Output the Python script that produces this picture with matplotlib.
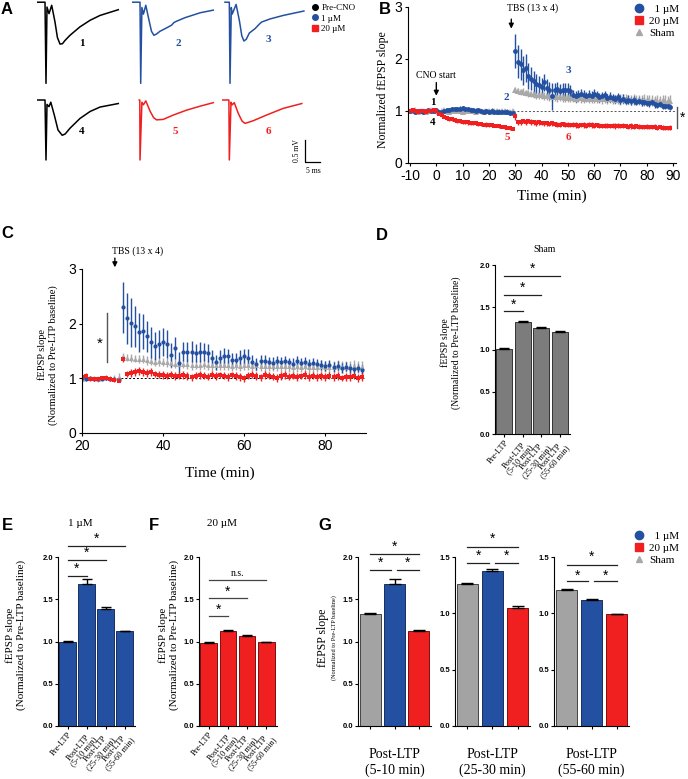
import numpy as np
import matplotlib
matplotlib.use("Agg")
import matplotlib.pyplot as plt
from matplotlib.lines import Line2D

plt.rcParams['font.family'] = 'Liberation Sans'
plt.rcParams['axes.linewidth'] = 0.8
plt.rcParams['axes.unicode_minus'] = False

SERIF = 'Liberation Serif'
BLUE = '#2450a2'
RED = '#f02020'
GRAY = '#a8a8a8'

# ---- panel A: example traces (ms, mV) ----
tr1_t = [0, 2.67, 3.0, 3.33, 4.0, 4.9, 6.0, 6.8, 7.67, 8.5, 9.3, 11.0, 14.3, 17.7, 21.0, 27.1]
tr1_v = [0, 0, -1.84, -0.11, -0.26, -0.07, -0.45, -0.80, -0.95, -0.94, -0.87, -0.75, -0.56, -0.41, -0.30, -0.17]
tr2_t = [0, 2.67, 2.9, 3.3, 3.8, 4.6, 5.7, 6.5, 7.3, 8.2, 9.3, 11.6, 13.2, 14.0, 14.9, 17.7, 22.7, 27.1]
tr2_v = [0, 0, -1.84, -0.12, -0.27, -0.07, -0.42, -0.66, -0.75, -0.72, -0.66, -0.58, -0.52, -0.46, -0.43, -0.35, -0.24, -0.18]
tr3_t = [1.0, 2.44, 2.67, 3.1, 3.4, 4.7, 5.8, 6.6, 7.3, 8.1, 9.1, 11.0, 12.4, 13.2, 16.0, 20.4, 27.3]
tr3_v = [0, 0, -1.84, -0.12, -0.27, -0.05, -0.42, -0.76, -0.88, -0.84, -0.70, -0.60, -0.50, -0.45, -0.38, -0.30, -0.20]
tr4_t = [0, 2.67, 3.0, 3.33, 4.0, 4.6, 5.8, 7.0, 8.4, 9.4, 11.0, 14.3, 17.7, 21.0, 27.1]
tr4_v = [0, 0, -1.36, -0.10, -0.15, -0.05, -0.35, -0.68, -0.80, -0.77, -0.64, -0.42, -0.26, -0.16, -0.08]
tr5_t = [2.4, 2.6, 2.67, 3.3, 3.8, 4.6, 6.0, 7.2, 8.2, 10.4, 13.8, 18.2, 22.7, 27.1]
tr5_v = [0, 0, -1.36, -0.05, -0.11, -0.02, -0.25, -0.40, -0.45, -0.44, -0.34, -0.23, -0.14, -0.06]
tr6_t = [0, 2.3, 2.44, 3.0, 3.4, 4.1, 5.4, 6.7, 7.7, 10.4, 14.9, 20.4, 26.6]
tr6_v = [0, 0, -1.36, -0.05, -0.11, -0.06, -0.30, -0.48, -0.53, -0.47, -0.34, -0.19, -0.08]

# ---- panel B: normalized fEPSP slope, -10..89 min ----
b_time = np.arange(-10, 90)
b_blue_m = [1.00, 1.01, 0.99, 1.00, 1.00, 0.99, 1.00, 1.01, 1.00, 1.00,
            1.01, 0.98, 0.99, 1.00, 1.01, 1.02, 1.03, 1.03, 1.04, 1.04,
            1.05, 1.04, 1.03, 1.02, 1.01, 1.00, 1.01, 1.00, 0.99, 1.00,
            0.99, 1.00, 0.98, 0.99, 0.99, 0.98, 0.98, 0.99, 0.97, 0.97,
            2.15, 1.95, 1.90, 1.78, 1.82, 1.68, 1.62, 1.57, 1.52, 1.50,
            1.46, 1.55, 1.45, 1.40, 1.28, 1.40, 1.42, 1.38, 1.40, 1.40,
            1.40, 1.38, 1.30, 1.28, 1.30, 1.32, 1.30, 1.28, 1.30, 1.29,
            1.32, 1.30, 1.26, 1.28, 1.30, 1.25, 1.27, 1.25, 1.23, 1.26,
            1.22, 1.24, 1.20, 1.22, 1.19, 1.21, 1.18, 1.20, 1.17, 1.18,
            1.16, 1.15, 1.17, 1.13, 1.12, 1.14, 1.10, 1.09, 1.10, 1.08]
b_blue_e = [0.03, 0.03, 0.02, 0.03, 0.03, 0.02, 0.03, 0.03, 0.02, 0.03,
            0.03, 0.04, 0.03, 0.03, 0.04, 0.04, 0.04, 0.05, 0.04, 0.05,
            0.05, 0.04, 0.05, 0.04, 0.04, 0.05, 0.04, 0.04, 0.05, 0.04,
            0.04, 0.05, 0.04, 0.04, 0.05, 0.04, 0.04, 0.05, 0.04, 0.05,
            0.33, 0.32, 0.30, 0.28, 0.27, 0.25, 0.22, 0.20, 0.20, 0.18,
            0.18, 0.17, 0.16, 0.16, 0.26, 0.14, 0.13, 0.14, 0.13, 0.13,
            0.13, 0.12, 0.10, 0.11, 0.10, 0.10, 0.10, 0.09, 0.10, 0.09,
            0.10, 0.09, 0.08, 0.09, 0.09, 0.08, 0.09, 0.08, 0.08, 0.09,
            0.08, 0.08, 0.07, 0.08, 0.07, 0.08, 0.07, 0.07, 0.08, 0.07,
            0.07, 0.07, 0.06, 0.07, 0.06, 0.07, 0.06, 0.06, 0.07, 0.06]
b_red_m = [1.00, 1.01, 1.00, 0.99, 1.00, 1.00, 0.99, 1.00, 1.00, 1.01,
           1.00, 0.95, 0.92, 0.89, 0.87, 0.85, 0.84, 0.82, 0.81, 0.80,
           0.79, 0.78, 0.78, 0.77, 0.76, 0.77, 0.75, 0.75, 0.74, 0.74,
           0.73, 0.73, 0.72, 0.72, 0.71, 0.70, 0.69, 0.68, 0.67, 0.66,
           0.90, 0.78, 0.79, 0.80, 0.79, 0.80, 0.79, 0.78, 0.77, 0.78,
           0.77, 0.76, 0.76, 0.75, 0.76, 0.75, 0.74, 0.74, 0.75, 0.74,
           0.74, 0.73, 0.74, 0.73, 0.72, 0.73, 0.73, 0.72, 0.74, 0.73,
           0.72, 0.73, 0.72, 0.71, 0.72, 0.72, 0.71, 0.72, 0.71, 0.72,
           0.71, 0.72, 0.71, 0.70, 0.71, 0.70, 0.71, 0.70, 0.69, 0.70,
           0.70, 0.69, 0.69, 0.70, 0.68, 0.69, 0.68, 0.68, 0.67, 0.68]
b_red_e = [0.02, 0.03, 0.02, 0.02, 0.03, 0.02, 0.02, 0.03, 0.02, 0.03,
           0.03, 0.03, 0.04, 0.03, 0.04, 0.04, 0.03, 0.04, 0.04, 0.03,
           0.04, 0.03, 0.04, 0.04, 0.03, 0.04, 0.03, 0.04, 0.03, 0.04,
           0.03, 0.04, 0.03, 0.03, 0.04, 0.03, 0.03, 0.03, 0.03, 0.03,
           0.07, 0.05, 0.05, 0.04, 0.05, 0.04, 0.05, 0.04, 0.05, 0.04,
           0.04, 0.05, 0.04, 0.04, 0.05, 0.04, 0.04, 0.05, 0.04, 0.04,
           0.05, 0.04, 0.04, 0.05, 0.04, 0.04, 0.05, 0.04, 0.04, 0.05,
           0.04, 0.04, 0.05, 0.04, 0.04, 0.05, 0.04, 0.04, 0.05, 0.04,
           0.04, 0.05, 0.04, 0.04, 0.05, 0.04, 0.04, 0.05, 0.04, 0.04,
           0.05, 0.04, 0.04, 0.05, 0.04, 0.04, 0.05, 0.04, 0.04, 0.05]
b_sham_m = [1.00, 1.00, 1.01, 0.99, 1.00, 1.00, 0.99, 1.00, 1.01, 1.00,
            1.00, 0.99, 1.00, 1.01, 1.00, 0.99, 1.00, 1.00, 1.01, 1.00,
            0.99, 1.00, 1.00, 1.01, 1.00, 0.99, 1.00, 1.00, 0.99, 1.00,
            1.00, 0.99, 1.00, 1.00, 0.99, 1.00, 1.00, 0.99, 0.99, 1.00,
            1.40, 1.38, 1.37, 1.37, 1.35, 1.34, 1.33, 1.32, 1.31, 1.30,
            1.30, 1.29, 1.28, 1.28, 1.27, 1.27, 1.26, 1.26, 1.26, 1.25,
            1.26, 1.25, 1.25, 1.24, 1.25, 1.25, 1.24, 1.25, 1.24, 1.24,
            1.25, 1.24, 1.24, 1.23, 1.24, 1.23, 1.24, 1.23, 1.22, 1.23,
            1.22, 1.23, 1.22, 1.22, 1.21, 1.22, 1.21, 1.21, 1.20, 1.21,
            1.20, 1.21, 1.20, 1.19, 1.20, 1.19, 1.20, 1.19, 1.18, 1.19]
b_sham_e = [0.03, 0.02, 0.03, 0.03, 0.02, 0.03, 0.03, 0.02, 0.03, 0.03,
            0.03, 0.03, 0.02, 0.03, 0.03, 0.03, 0.02, 0.03, 0.03, 0.03,
            0.03, 0.03, 0.03, 0.02, 0.03, 0.03, 0.03, 0.03, 0.03, 0.03,
            0.03, 0.03, 0.03, 0.03, 0.03, 0.03, 0.03, 0.03, 0.03, 0.03,
            0.06, 0.06, 0.06, 0.07, 0.06, 0.07, 0.06, 0.07, 0.07, 0.06,
            0.07, 0.07, 0.07, 0.08, 0.07, 0.07, 0.08, 0.07, 0.08, 0.08,
            0.08, 0.07, 0.08, 0.08, 0.08, 0.09, 0.08, 0.08, 0.09, 0.08,
            0.09, 0.08, 0.09, 0.09, 0.08, 0.09, 0.09, 0.10, 0.09, 0.09,
            0.10, 0.09, 0.10, 0.09, 0.10, 0.10, 0.09, 0.10, 0.10, 0.11,
            0.10, 0.10, 0.11, 0.10, 0.11, 0.10, 0.11, 0.12, 0.11, 0.12]

# ---- panel C: normalized to pre-LTP baseline, 20..89 min ----
c_time = np.arange(20, 90)
c_blue_m = [1.00, 0.99, 1.00, 0.99, 0.98, 0.99, 1.00, 0.99, 0.98, 0.97,
            2.30, 2.10, 2.02, 1.95, 1.84, 1.86, 1.77, 1.66, 1.59, 1.63,
            1.66, 1.63, 1.43, 1.55, 1.28, 1.49, 1.48, 1.49, 1.46, 1.48,
            1.48, 1.46, 1.37, 1.29, 1.37, 1.40, 1.40, 1.34, 1.34, 1.37,
            1.40, 1.38, 1.30, 1.27, 1.31, 1.32, 1.29, 1.28, 1.31, 1.29,
            1.31, 1.29, 1.27, 1.31, 1.28, 1.30, 1.27, 1.28, 1.26, 1.25,
            1.23, 1.25, 1.21, 1.23, 1.19, 1.21, 1.18, 1.17, 1.19, 1.16]
c_blue_e = [0.03, 0.02, 0.03, 0.02, 0.03, 0.02, 0.03, 0.02, 0.03, 0.03,
            0.47, 0.47, 0.45, 0.37, 0.35, 0.32, 0.28, 0.28, 0.25, 0.26,
            0.26, 0.25, 0.22, 0.20, 0.20, 0.18, 0.18, 0.19, 0.17, 0.18,
            0.17, 0.16, 0.15, 0.14, 0.14, 0.15, 0.14, 0.13, 0.13, 0.14,
            0.14, 0.15, 0.12, 0.11, 0.11, 0.10, 0.10, 0.11, 0.10, 0.10,
            0.10, 0.09, 0.10, 0.09, 0.10, 0.09, 0.09, 0.10, 0.09, 0.09,
            0.09, 0.08, 0.09, 0.08, 0.09, 0.08, 0.08, 0.09, 0.08, 0.08]
c_red_m = [1.03, 1.05, 0.99, 0.98, 0.99, 1.00, 1.00, 0.98, 0.97, 0.96,
           1.35, 1.08, 1.10, 1.12, 1.13, 1.12, 1.10, 1.12, 1.08, 1.07,
           1.06, 1.05, 1.07, 1.04, 1.05, 1.06, 1.04, 1.02, 1.05, 1.06,
           1.05, 1.03, 1.07, 1.04, 1.06, 1.05, 1.02, 1.06, 1.04, 1.03,
           1.00, 1.05, 1.07, 1.04, 1.02, 1.06, 1.05, 1.03, 1.01, 1.04,
           1.06, 1.03, 1.05, 1.02, 1.04, 1.06, 1.03, 1.05, 1.02, 1.04,
           1.03, 1.05, 1.02, 1.04, 1.01, 1.03, 1.02, 1.04, 1.01, 1.02]
c_red_e = [0.04, 0.04, 0.03, 0.03, 0.03, 0.03, 0.03, 0.03, 0.03, 0.03,
           0.05, 0.06, 0.07, 0.07, 0.07, 0.07, 0.07, 0.07, 0.06, 0.07,
           0.07, 0.06, 0.07, 0.07, 0.06, 0.07, 0.07, 0.06, 0.07, 0.07,
           0.07, 0.06, 0.07, 0.07, 0.06, 0.07, 0.07, 0.06, 0.07, 0.07,
           0.07, 0.06, 0.07, 0.07, 0.06, 0.07, 0.07, 0.06, 0.07, 0.07,
           0.07, 0.06, 0.07, 0.07, 0.06, 0.07, 0.07, 0.06, 0.07, 0.07,
           0.07, 0.06, 0.07, 0.07, 0.06, 0.07, 0.07, 0.06, 0.07, 0.07]
c_sham_m = [0.98, 1.00, 1.01, 1.00, 0.99, 1.01, 1.02, 1.00, 1.01, 1.03,
            1.40, 1.38, 1.37, 1.36, 1.35, 1.35, 1.33, 1.32, 1.30, 1.31,
            1.30, 1.29, 1.28, 1.27, 1.27, 1.26, 1.26, 1.25, 1.25, 1.25,
            1.26, 1.25, 1.24, 1.25, 1.24, 1.25, 1.24, 1.23, 1.24, 1.23,
            1.25, 1.24, 1.23, 1.24, 1.23, 1.22, 1.23, 1.22, 1.23, 1.22,
            1.23, 1.22, 1.21, 1.22, 1.21, 1.22, 1.21, 1.20, 1.21, 1.22,
            1.21, 1.20, 1.21, 1.22, 1.20, 1.21, 1.20, 1.22, 1.21, 1.20]
c_sham_e = [0.04, 0.05, 0.04, 0.05, 0.05, 0.04, 0.05, 0.05, 0.06, 0.06,
            0.06, 0.07, 0.07, 0.06, 0.07, 0.07, 0.08, 0.07, 0.08, 0.08,
            0.08, 0.08, 0.09, 0.08, 0.09, 0.08, 0.09, 0.09, 0.08, 0.09,
            0.09, 0.09, 0.10, 0.09, 0.09, 0.10, 0.09, 0.10, 0.09, 0.10,
            0.10, 0.09, 0.10, 0.10, 0.09, 0.10, 0.10, 0.09, 0.10, 0.10,
            0.10, 0.10, 0.09, 0.10, 0.10, 0.10, 0.11, 0.10, 0.10, 0.11,
            0.10, 0.11, 0.10, 0.11, 0.11, 0.10, 0.11, 0.12, 0.11, 0.12]

# ---- bar panels ----
bar_labels = ['Pre-LTP', 'Post-LTP\n(5-10 min)', 'Post-LTP\n(25-30 min)', 'Post-LTP\n(55-60 min)']
d_vals = [1.01, 1.33, 1.26, 1.21]
d_errs = [0.01, 0.01, 0.008, 0.006]
e_vals = [1.00, 1.68, 1.39, 1.12]
e_errs = [0.01, 0.06, 0.015, 0.006]
f_vals = [0.98, 1.13, 1.06, 0.99]
f_errs = [0.01, 0.012, 0.018, 0.008]
g_titles = ['Post-LTP\n(5-10 min)', 'Post-LTP\n(25-30 min)', 'Post-LTP\n(55-60 min)']
g_sham = [1.33, 1.26, 1.21]
g_sham_e = [0.01, 0.008, 0.008]
g_1um = [1.68, 1.38, 1.12]
g_1um_e = [0.06, 0.015, 0.008]
g_20um = [1.13, 1.05, 0.99]
g_20um_e = [0.01, 0.015, 0.006]

W, H = 688, 779
fig = plt.figure(figsize=(W / 100, H / 100), dpi=100)


def px_axes(l, t, r, b):
    return fig.add_axes([l / W, 1 - b / H, (r - l) / W, (b - t) / H])


def ftext(x, y, s, **kw):
    return fig.text(x / W, 1 - y / H, s, **kw)


# panel letters
for letter, (x, y) in zip('ABCDEFG', [(7, 9), (385, 9), (7, 234), (382, 236),
                                      (7, 526), (154, 526), (325, 526)]):
    ftext(x, y, letter, fontsize=12, fontweight='bold', ha='center', va='center')

# ---------- A ----------
traces = [(37, 0, tr1_t, tr1_v, 'black'), (132, 0, tr2_t, tr2_v, BLUE),
          (222, 0, tr3_t, tr3_v, BLUE), (37, 97.8, tr4_t, tr4_v, 'black'),
          (132, 97.8, tr5_t, tr5_v, RED), (222, 97.8, tr6_t, tr6_v, RED)]
for left, top, t, v, col in traces:
    ax = px_axes(left, top, left + 84, top + 86)
    ax.plot(t, v, color=col, lw=1.1)
    ax.set_xlim(0, 28)
    ax.set_ylim(-1.9, 0.05)
    ax.axis('off')

for s, (x, y), col in zip('123456', [(82, 43), (178, 43), (268, 40), (82, 131), (175, 131), (268, 131)],
                          ['black', BLUE, BLUE, 'black', RED, RED]):
    ftext(x, y, s, fontsize=8, fontweight='bold', family=SERIF, color=col, ha='center', va='center')

# scale bar
ax_sb = px_axes(300, 130, 330, 174)
ax_sb.plot([1.67, 1.67, 6.67], [-0.23, -0.73, -0.73], color='black', lw=0.9)
ax_sb.set_xlim(0, 10)
ax_sb.set_ylim(-1, 0)
ax_sb.axis('off')
ftext(297, 151, '0.5 mV', fontsize=5.5, family=SERIF, rotation=90, ha='center', va='center')
ftext(313, 171, '5 ms', fontsize=5.5, family=SERIF, ha='center', va='center')

a_handles = [Line2D([], [], ls='none', marker='o', color='black', ms=4),
             Line2D([], [], ls='none', marker='o', color=BLUE, ms=4),
             Line2D([], [], ls='none', marker='s', color=RED, ms=4)]
fig.legend(a_handles, ['Pre-CNO', '1 µM', '20 µM'], loc='upper left',
           bbox_to_anchor=(306 / W, 1 - 0 / H), frameon=False,
           prop={'family': SERIF, 'size': 6.5}, handletextpad=0.1,
           labelspacing=0.25, handlelength=1.2, borderaxespad=0)

# ---------- B ----------
axb = px_axes(408, 7, 676, 163)
for m, e, col, mk, ms in [(b_sham_m, b_sham_e, GRAY, '^', 4),
                          (b_blue_m, b_blue_e, BLUE, 'o', 3.5),
                          (b_red_m, b_red_e, RED, 's', 3.5)]:
    axb.errorbar(b_time, m, yerr=e, fmt=mk, ms=ms, color=col, ecolor=col,
                 elinewidth=1.0, capsize=2, capthick=1.0, mew=0)
axb.axhline(1, color='#555555', lw=0.7, ls=(0, (2, 2)), zorder=0)
axb.set_xlim(-10.76, 91.1)
axb.set_ylim(0, 3)
axb.set_xticks(np.arange(-10, 91, 10))
axb.set_yticks([0, 1, 2, 3])
axb.tick_params(labelsize=10, length=2.5, width=0.8, pad=1.5)
for sp in ['top', 'right']:
    axb.spines[sp].set_visible(False)
ftext(383, 90, 'Normalized fEPSP slope', fontsize=8.5, family=SERIF, rotation=90, ha='center', va='center')
ftext(552, 196, 'Time (min)', fontsize=11, family=SERIF, ha='center', va='center')
axb.annotate('', xy=(0, 1.24), xytext=(0, 1.6),
             arrowprops=dict(arrowstyle='-|>', color='black', lw=1.0, mutation_scale=7))
axb.text(0, 1.69, 'CNO start', fontsize=7, family=SERIF, ha='center', va='center')
axb.annotate('', xy=(28.5, 2.53), xytext=(28.5, 2.82),
             arrowprops=dict(arrowstyle='-|>', color='black', lw=1.0, mutation_scale=7),
             annotation_clip=False)
axb.text(36.5, 2.97, 'TBS (13 x 4)', fontsize=7, family=SERIF, ha='center', va='center')
for s, x, y, col in [('1', -1.4, 1.17, 'black'), ('4', -1.4, 0.77, 'black'),
                     ('2', 26.7, 1.25, BLUE), ('3', 50.3, 1.77, BLUE),
                     ('5', 27.1, 0.49, RED), ('6', 50.3, 0.49, RED)]:
    axb.text(x, y, s, fontsize=8, fontweight='bold', family=SERIF, color=col, ha='center', va='center')
axb.plot([91.5, 91.5], [0.67, 1.08], color='#555555', lw=1.0, clip_on=False)
axb.text(93.6, 0.86, '*', fontsize=10, ha='center', va='center', clip_on=False)
b_handles = [Line2D([], [], ls='none', marker='o', color=BLUE, ms=6),
             Line2D([], [], ls='none', marker='s', color=RED, ms=6),
             Line2D([], [], ls='none', marker='^', color=GRAY, ms=5)]
fig.legend(b_handles, ['  1 µM', '20 µM', 'Sham'], loc='upper left',
           bbox_to_anchor=(628 / W, 1 - 0 / H), frameon=False,
           prop={'family': SERIF, 'size': 8}, handletextpad=0.3,
           labelspacing=0.2, handlelength=1.2, borderaxespad=0)

# ---------- C ----------
axc = px_axes(82, 269, 366, 433)
for m, e, col, mk, ms in [(c_sham_m, c_sham_e, GRAY, '^', 3.5),
                          (c_blue_m, c_blue_e, BLUE, 'o', 3),
                          (c_red_m, c_red_e, RED, 's', 3.5)]:
    axc.errorbar(c_time, m, yerr=e, fmt=mk, ms=ms, color=col, ecolor=col,
                 elinewidth=1.0, capsize=2, capthick=1.0, mew=0)
axc.axhline(1, color='black', lw=0.7, ls=(0, (2, 2)), zorder=0)
axc.set_xlim(20, 90)
axc.set_ylim(0, 3)
axc.set_xticks([20, 40, 60, 80])
axc.set_yticks([0, 1, 2, 3])
axc.tick_params(labelsize=10, length=2.5, width=0.8, pad=1.5)
for sp in ['top', 'right']:
    axc.spines[sp].set_visible(False)
ftext(48, 355, 'fEPSP slope\n(Normalized to Pre-LTP baseline)', fontsize=7.5, family=SERIF,
      rotation=90, ha='center', va='center', multialignment='center')
ftext(220, 473, 'Time (min)', fontsize=11, family=SERIF, ha='center', va='center')
axc.annotate('', xy=(28.1, 2.98), xytext=(28.1, 3.25),
             arrowprops=dict(arrowstyle='-|>', color='black', lw=1.0, mutation_scale=7),
             annotation_clip=False)
axc.text(33.6, 3.33, 'TBS (13 x 4)', fontsize=7, family=SERIF, ha='center', va='center', clip_on=False)
axc.plot([26.2, 26.2], [1.30, 2.19], color='#555555', lw=1.0)
axc.text(24.3, 1.64, '*', fontsize=11, ha='center', va='center')


# ---------- bar helpers ----------
def style_bar_axes(ax, ymax, yticks):
    ax.set_ylim(0, ymax)
    ax.set_yticks(yticks)
    ax.set_yticklabels(['%.1f' % v for v in yticks])
    for lab in ax.get_yticklabels():
        lab.set_fontweight('bold')
    ax.tick_params(labelsize=5.5, length=2.5, width=0.8, pad=1)
    for sp in ['top', 'right']:
        ax.spines[sp].set_visible(False)


def sig(ax, x0, x1, y, ty, txt='*', size=10, col='#222222'):
    ax.plot([x0, x1], [y, y], color=col, lw=0.9, clip_on=False)
    ax.text((x0 + x1) / 2, ty, txt, ha='center', va='center', fontsize=size, clip_on=False)


def bar_panel(box, vals, errs, color, edge):
    ax = px_axes(*box)
    x = np.arange(len(vals))
    ax.bar(x, vals, width=0.85, color=color, edgecolor=edge, linewidth=0.7)
    ax.errorbar(x, vals, yerr=[np.zeros(len(errs)), errs], fmt='none', ecolor='black',
                elinewidth=1.0, capsize=3.5, capthick=1.0)
    ax.set_xlim(-0.5, 3.55)
    ax.set_xticks(x)
    style_bar_axes(ax, 2.0, [0.0, 0.5, 1.0, 1.5, 2.0])
    ax.set_xticklabels(bar_labels, rotation=50, ha='right', va='top', rotation_mode='anchor',
                       family=SERIF, fontsize=6, fontweight='normal',
                       multialignment='center', linespacing=0.9)
    return ax


# ---------- D ----------
axd = bar_panel((495, 265, 570, 434), d_vals, d_errs, '#7c7c7c', '#333333')
sig(axd, 0, 1, 1.455, 1.53)
sig(axd, 0, 2, 1.65, 1.73)
sig(axd, 0, 3, 1.87, 1.95)
ftext(545, 250, 'Sham', fontsize=7, family=SERIF, ha='center', va='center')
ftext(451, 343, 'fEPSP slope\n(Normalized to Pre-LTP baseline)', fontsize=7, family=SERIF,
      rotation=90, ha='center', va='center', multialignment='center')

# ---------- E ----------
axe = bar_panel((58, 557, 135, 726), e_vals, e_errs, BLUE, '#1a2f60')
sig(axe, 0, 1, 1.78, 1.86)
sig(axe, 0, 2, 1.97, 2.05)
sig(axe, 0, 3, 2.13, 2.21)
ftext(80, 524, '1 µM', fontsize=8, family=SERIF, ha='center', va='center')
ftext(16, 635, 'fEPSP slope\n(Normalized to Pre-LTP baseline)', fontsize=8, family=SERIF,
      rotation=90, ha='center', va='center', multialignment='center')

# ---------- F ----------
axf = bar_panel((199, 557, 277, 726), f_vals, f_errs, RED, '#7a1010')
sig(axf, 0, 1, 1.30, 1.38, col='#444444')
sig(axf, 0, 2, 1.51, 1.59, col='#444444')
sig(axf, 0, 3, 1.73, 1.80, txt='n.s.', size=7, col='#444444')
axf.texts[-1].set_family(SERIF)
ftext(222, 523, '20 µM', fontsize=8, family=SERIF, ha='center', va='center')
ftext(169, 635, 'fEPSP slope\n(Normalized to Pre-LTP baseline)', fontsize=8, family=SERIF,
      rotation=90, ha='center', va='center', multialignment='center')

# ---------- G ----------
g_boxes = [(358, 557, 431, 726), (455, 557, 530, 726), (554, 557, 629, 726)]
g_ymax = [2.0, 1.5, 1.5]
g_sig = [(1.85, 1.93, 2.04, 2.12), (1.45, 1.51, 1.59, 1.66), (1.29, 1.33, 1.43, 1.50)]
for i, box in enumerate(g_boxes):
    ax = px_axes(*box)
    vals = [g_sham[i], g_1um[i], g_20um[i]]
    errs = [g_sham_e[i], g_1um_e[i], g_20um_e[i]]
    x = np.arange(3)
    ax.bar(x, vals, width=0.85, color=['#a3a3a3', BLUE, RED],
           edgecolor=['#444444', '#1a2f60', '#7a1010'], linewidth=0.7)
    ax.errorbar(x, vals, yerr=[np.zeros(3), errs], fmt='none', ecolor='black',
                elinewidth=1.0, capsize=4, capthick=1.0)
    ax.set_xlim(-0.5, 2.5)
    ax.set_xticks(x)
    ax.set_xticklabels(['', '', ''])
    yt = [0.0, 0.5, 1.0, 1.5, 2.0] if g_ymax[i] == 2.0 else [0.0, 0.5, 1.0, 1.5]
    style_bar_axes(ax, g_ymax[i], yt)
    lo, lo_t, hi, hi_t = g_sig[i]
    sig(ax, 0, 0.85, lo, lo_t)
    sig(ax, 1.1, 2, lo, lo_t)
    sig(ax, 0, 2, hi, hi_t)
    ax.text(0.5, -0.13, g_titles[i], transform=ax.transAxes, fontsize=10, family=SERIF,
            ha='center', va='top', multialignment='center', linespacing=1.2)
ftext(323, 638, 'fEPSP slope', fontsize=8.5, family=SERIF, rotation=90, ha='center', va='center')
ftext(334, 638, '(Normalized to Pre-LTP baseline)', fontsize=4.5, family=SERIF, rotation=90,
      ha='center', va='center')
g_handles = [Line2D([], [], ls='none', marker='o', color=BLUE, ms=6),
             Line2D([], [], ls='none', marker='s', color=RED, ms=6),
             Line2D([], [], ls='none', marker='^', color=GRAY, ms=5)]
fig.legend(g_handles, ['  1 µM', '20 µM', 'Sham'], loc='upper left',
           bbox_to_anchor=(628 / W, 1 - 527 / H), frameon=False,
           prop={'family': SERIF, 'size': 8}, handletextpad=0.3,
           labelspacing=0.2, handlelength=1.2, borderaxespad=0)

fig.savefig('out.png', dpi=100)
